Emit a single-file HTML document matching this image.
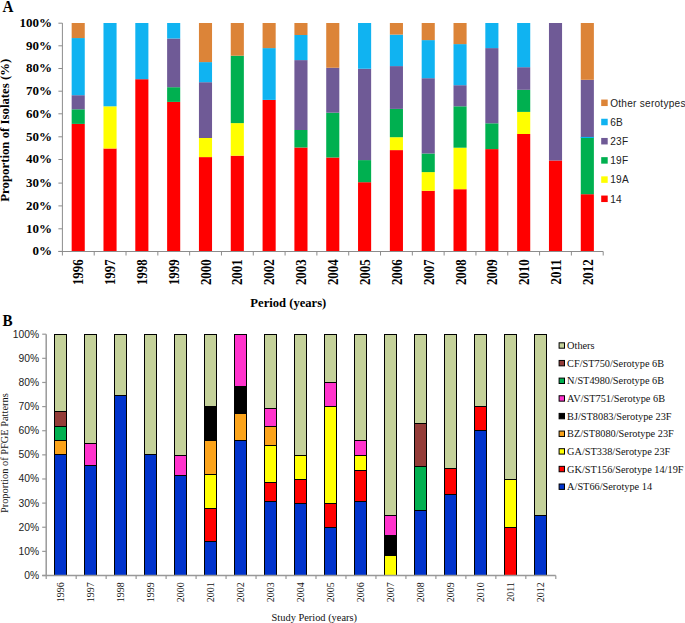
<!DOCTYPE html>
<html><head><meta charset="utf-8"><style>
html,body{margin:0;padding:0;background:#fff;width:685px;height:623px;overflow:hidden}
svg{display:block}
</style></head><body>
<svg width="685" height="623" viewBox="0 0 685 623">
<rect width="685" height="623" fill="#fff"/>
<rect x="71.66" y="123.9" width="13.1" height="127.1" fill="#ff0000"/>
<rect x="71.66" y="109.3" width="13.1" height="14.6" fill="#00b050"/>
<rect x="71.66" y="95.2" width="13.1" height="14.1" fill="#6f5a96"/>
<rect x="71.66" y="38.06" width="13.1" height="57.14" fill="#10b3f1"/>
<rect x="71.66" y="23" width="13.1" height="15.06" fill="#dc8438"/>
<rect x="103.48" y="148.5" width="13.1" height="102.5" fill="#ff0000"/>
<rect x="103.48" y="106.3" width="13.1" height="42.2" fill="#ffff00"/>
<rect x="103.48" y="23" width="13.1" height="83.3" fill="#10b3f1"/>
<rect x="135.3" y="79.2" width="13.1" height="171.8" fill="#ff0000"/>
<rect x="135.3" y="23" width="13.1" height="56.2" fill="#10b3f1"/>
<rect x="167.12" y="101.9" width="13.1" height="149.1" fill="#ff0000"/>
<rect x="167.12" y="87.2" width="13.1" height="14.7" fill="#00b050"/>
<rect x="167.12" y="38.5" width="13.1" height="48.7" fill="#6f5a96"/>
<rect x="167.12" y="23" width="13.1" height="15.5" fill="#10b3f1"/>
<rect x="198.94" y="157.1" width="13.1" height="93.9" fill="#ff0000"/>
<rect x="198.94" y="138" width="13.1" height="19.1" fill="#ffff00"/>
<rect x="198.94" y="82.2" width="13.1" height="55.8" fill="#6f5a96"/>
<rect x="198.94" y="62.1" width="13.1" height="20.1" fill="#10b3f1"/>
<rect x="198.94" y="23" width="13.1" height="39.1" fill="#dc8438"/>
<rect x="230.76" y="155.7" width="13.1" height="95.3" fill="#ff0000"/>
<rect x="230.76" y="123.1" width="13.1" height="32.6" fill="#ffff00"/>
<rect x="230.76" y="55.7" width="13.1" height="67.4" fill="#00b050"/>
<rect x="230.76" y="23" width="13.1" height="32.7" fill="#dc8438"/>
<rect x="262.58" y="99.9" width="13.1" height="151.1" fill="#ff0000"/>
<rect x="262.58" y="48.1" width="13.1" height="51.8" fill="#10b3f1"/>
<rect x="262.58" y="23" width="13.1" height="25.1" fill="#dc8438"/>
<rect x="294.4" y="147.5" width="13.1" height="103.5" fill="#ff0000"/>
<rect x="294.4" y="130" width="13.1" height="17.5" fill="#00b050"/>
<rect x="294.4" y="60.1" width="13.1" height="69.9" fill="#6f5a96"/>
<rect x="294.4" y="35" width="13.1" height="25.1" fill="#10b3f1"/>
<rect x="294.4" y="23" width="13.1" height="12" fill="#dc8438"/>
<rect x="326.22" y="157.5" width="13.1" height="93.5" fill="#ff0000"/>
<rect x="326.22" y="112.7" width="13.1" height="44.8" fill="#00b050"/>
<rect x="326.22" y="67.75" width="13.1" height="44.95" fill="#6f5a96"/>
<rect x="326.22" y="23" width="13.1" height="44.75" fill="#dc8438"/>
<rect x="358.04" y="182.2" width="13.1" height="68.8" fill="#ff0000"/>
<rect x="358.04" y="160.1" width="13.1" height="22.1" fill="#00b050"/>
<rect x="358.04" y="68.75" width="13.1" height="91.35" fill="#6f5a96"/>
<rect x="358.04" y="23" width="13.1" height="45.75" fill="#10b3f1"/>
<rect x="389.86" y="150.1" width="13.1" height="100.9" fill="#ff0000"/>
<rect x="389.86" y="137.2" width="13.1" height="12.9" fill="#ffff00"/>
<rect x="389.86" y="108.9" width="13.1" height="28.3" fill="#00b050"/>
<rect x="389.86" y="66.1" width="13.1" height="42.8" fill="#6f5a96"/>
<rect x="389.86" y="34.6" width="13.1" height="31.5" fill="#10b3f1"/>
<rect x="389.86" y="23" width="13.1" height="11.6" fill="#dc8438"/>
<rect x="421.68" y="190.8" width="13.1" height="60.2" fill="#ff0000"/>
<rect x="421.68" y="172.1" width="13.1" height="18.7" fill="#ffff00"/>
<rect x="421.68" y="153.5" width="13.1" height="18.6" fill="#00b050"/>
<rect x="421.68" y="78.2" width="13.1" height="75.3" fill="#6f5a96"/>
<rect x="421.68" y="40.1" width="13.1" height="38.1" fill="#10b3f1"/>
<rect x="421.68" y="23" width="13.1" height="17.1" fill="#dc8438"/>
<rect x="453.5" y="189.2" width="13.1" height="61.8" fill="#ff0000"/>
<rect x="453.5" y="147.7" width="13.1" height="41.5" fill="#ffff00"/>
<rect x="453.5" y="106.3" width="13.1" height="41.4" fill="#00b050"/>
<rect x="453.5" y="85.2" width="13.1" height="21.1" fill="#6f5a96"/>
<rect x="453.5" y="44.1" width="13.1" height="41.1" fill="#10b3f1"/>
<rect x="453.5" y="23" width="13.1" height="21.1" fill="#dc8438"/>
<rect x="485.32" y="149.1" width="13.1" height="101.9" fill="#ff0000"/>
<rect x="485.32" y="123.3" width="13.1" height="25.8" fill="#00b050"/>
<rect x="485.32" y="48.1" width="13.1" height="75.2" fill="#6f5a96"/>
<rect x="485.32" y="23" width="13.1" height="25.1" fill="#10b3f1"/>
<rect x="517.14" y="134" width="13.1" height="117" fill="#ff0000"/>
<rect x="517.14" y="111.9" width="13.1" height="22.1" fill="#ffff00"/>
<rect x="517.14" y="89.8" width="13.1" height="22.1" fill="#00b050"/>
<rect x="517.14" y="67.2" width="13.1" height="22.6" fill="#6f5a96"/>
<rect x="517.14" y="23" width="13.1" height="44.2" fill="#10b3f1"/>
<rect x="548.96" y="160.5" width="13.1" height="90.5" fill="#ff0000"/>
<rect x="548.96" y="23" width="13.1" height="137.5" fill="#6f5a96"/>
<rect x="580.78" y="194.2" width="13.1" height="56.8" fill="#ff0000"/>
<rect x="580.78" y="137.4" width="13.1" height="56.8" fill="#00b050"/>
<rect x="580.78" y="79.8" width="13.1" height="57.6" fill="#6f5a96"/>
<rect x="580.78" y="23" width="13.1" height="56.8" fill="#dc8438"/>
<rect x="580.78" y="136.9" width="13.1" height="1.1" fill="#08b6f4"/>
<line x1="62.4" y1="23.1" x2="62.4" y2="251.5" stroke="#8c8c8c" stroke-width="1"/>
<line x1="58.4" y1="251.5" x2="603.2" y2="251.5" stroke="#8c8c8c" stroke-width="1"/>
<line x1="58.4" y1="251.4" x2="62.4" y2="251.4" stroke="#8c8c8c" stroke-width="1"/>
<text transform="translate(52.0,255.2)" text-anchor="end" font-family='"Liberation Serif", serif' font-weight="bold" font-size="13" fill="#000">0%</text>
<line x1="58.4" y1="228.8" x2="62.4" y2="228.8" stroke="#8c8c8c" stroke-width="1"/>
<text transform="translate(52.0,232.6)" text-anchor="end" font-family='"Liberation Serif", serif' font-weight="bold" font-size="13" fill="#000">10%</text>
<line x1="58.4" y1="205.9" x2="62.4" y2="205.9" stroke="#8c8c8c" stroke-width="1"/>
<text transform="translate(52.0,209.7)" text-anchor="end" font-family='"Liberation Serif", serif' font-weight="bold" font-size="13" fill="#000">20%</text>
<line x1="58.4" y1="183.1" x2="62.4" y2="183.1" stroke="#8c8c8c" stroke-width="1"/>
<text transform="translate(52.0,186.9)" text-anchor="end" font-family='"Liberation Serif", serif' font-weight="bold" font-size="13" fill="#000">30%</text>
<line x1="58.4" y1="159.5" x2="62.4" y2="159.5" stroke="#8c8c8c" stroke-width="1"/>
<text transform="translate(52.0,163.3)" text-anchor="end" font-family='"Liberation Serif", serif' font-weight="bold" font-size="13" fill="#000">40%</text>
<line x1="58.4" y1="136.8" x2="62.4" y2="136.8" stroke="#8c8c8c" stroke-width="1"/>
<text transform="translate(52.0,140.6)" text-anchor="end" font-family='"Liberation Serif", serif' font-weight="bold" font-size="13" fill="#000">50%</text>
<line x1="58.4" y1="113.8" x2="62.4" y2="113.8" stroke="#8c8c8c" stroke-width="1"/>
<text transform="translate(52.0,117.6)" text-anchor="end" font-family='"Liberation Serif", serif' font-weight="bold" font-size="13" fill="#000">60%</text>
<line x1="58.4" y1="91.2" x2="62.4" y2="91.2" stroke="#8c8c8c" stroke-width="1"/>
<text transform="translate(52.0,95)" text-anchor="end" font-family='"Liberation Serif", serif' font-weight="bold" font-size="13" fill="#000">70%</text>
<line x1="58.4" y1="68.5" x2="62.4" y2="68.5" stroke="#8c8c8c" stroke-width="1"/>
<text transform="translate(52.0,72.3)" text-anchor="end" font-family='"Liberation Serif", serif' font-weight="bold" font-size="13" fill="#000">80%</text>
<line x1="58.4" y1="45.8" x2="62.4" y2="45.8" stroke="#8c8c8c" stroke-width="1"/>
<text transform="translate(52.0,49.6)" text-anchor="end" font-family='"Liberation Serif", serif' font-weight="bold" font-size="13" fill="#000">90%</text>
<line x1="58.4" y1="23.2" x2="62.4" y2="23.2" stroke="#8c8c8c" stroke-width="1"/>
<text transform="translate(52.0,27)" text-anchor="end" font-family='"Liberation Serif", serif' font-weight="bold" font-size="13" fill="#000">100%</text>
<line x1="62.4" y1="251.5" x2="62.4" y2="255.5" stroke="#8c8c8c" stroke-width="1"/>
<line x1="94.21" y1="251.5" x2="94.21" y2="255.5" stroke="#8c8c8c" stroke-width="1"/>
<line x1="126.02" y1="251.5" x2="126.02" y2="255.5" stroke="#8c8c8c" stroke-width="1"/>
<line x1="157.84" y1="251.5" x2="157.84" y2="255.5" stroke="#8c8c8c" stroke-width="1"/>
<line x1="189.65" y1="251.5" x2="189.65" y2="255.5" stroke="#8c8c8c" stroke-width="1"/>
<line x1="221.46" y1="251.5" x2="221.46" y2="255.5" stroke="#8c8c8c" stroke-width="1"/>
<line x1="253.27" y1="251.5" x2="253.27" y2="255.5" stroke="#8c8c8c" stroke-width="1"/>
<line x1="285.08" y1="251.5" x2="285.08" y2="255.5" stroke="#8c8c8c" stroke-width="1"/>
<line x1="316.89" y1="251.5" x2="316.89" y2="255.5" stroke="#8c8c8c" stroke-width="1"/>
<line x1="348.71" y1="251.5" x2="348.71" y2="255.5" stroke="#8c8c8c" stroke-width="1"/>
<line x1="380.52" y1="251.5" x2="380.52" y2="255.5" stroke="#8c8c8c" stroke-width="1"/>
<line x1="412.33" y1="251.5" x2="412.33" y2="255.5" stroke="#8c8c8c" stroke-width="1"/>
<line x1="444.14" y1="251.5" x2="444.14" y2="255.5" stroke="#8c8c8c" stroke-width="1"/>
<line x1="475.95" y1="251.5" x2="475.95" y2="255.5" stroke="#8c8c8c" stroke-width="1"/>
<line x1="507.76" y1="251.5" x2="507.76" y2="255.5" stroke="#8c8c8c" stroke-width="1"/>
<line x1="539.58" y1="251.5" x2="539.58" y2="255.5" stroke="#8c8c8c" stroke-width="1"/>
<line x1="571.39" y1="251.5" x2="571.39" y2="255.5" stroke="#8c8c8c" stroke-width="1"/>
<line x1="603.2" y1="251.5" x2="603.2" y2="255.5" stroke="#8c8c8c" stroke-width="1"/>
<text transform="translate(83,259.3) rotate(-90) scale(1,1.12)" x="0" y="0" text-anchor="end" font-family='"Liberation Serif", serif' font-weight="bold" font-size="12.9" fill="#000">1996</text>
<text transform="translate(114.88,259.3) rotate(-90) scale(1,1.12)" x="0" y="0" text-anchor="end" font-family='"Liberation Serif", serif' font-weight="bold" font-size="12.9" fill="#000">1997</text>
<text transform="translate(146.76,259.3) rotate(-90) scale(1,1.12)" x="0" y="0" text-anchor="end" font-family='"Liberation Serif", serif' font-weight="bold" font-size="12.9" fill="#000">1998</text>
<text transform="translate(178.64,259.3) rotate(-90) scale(1,1.12)" x="0" y="0" text-anchor="end" font-family='"Liberation Serif", serif' font-weight="bold" font-size="12.9" fill="#000">1999</text>
<text transform="translate(210.52,259.3) rotate(-90) scale(1,1.12)" x="0" y="0" text-anchor="end" font-family='"Liberation Serif", serif' font-weight="bold" font-size="12.9" fill="#000">2000</text>
<text transform="translate(242.4,259.3) rotate(-90) scale(1,1.12)" x="0" y="0" text-anchor="end" font-family='"Liberation Serif", serif' font-weight="bold" font-size="12.9" fill="#000">2001</text>
<text transform="translate(274.28,259.3) rotate(-90) scale(1,1.12)" x="0" y="0" text-anchor="end" font-family='"Liberation Serif", serif' font-weight="bold" font-size="12.9" fill="#000">2002</text>
<text transform="translate(306.16,259.3) rotate(-90) scale(1,1.12)" x="0" y="0" text-anchor="end" font-family='"Liberation Serif", serif' font-weight="bold" font-size="12.9" fill="#000">2003</text>
<text transform="translate(338.04,259.3) rotate(-90) scale(1,1.12)" x="0" y="0" text-anchor="end" font-family='"Liberation Serif", serif' font-weight="bold" font-size="12.9" fill="#000">2004</text>
<text transform="translate(369.92,259.3) rotate(-90) scale(1,1.12)" x="0" y="0" text-anchor="end" font-family='"Liberation Serif", serif' font-weight="bold" font-size="12.9" fill="#000">2005</text>
<text transform="translate(401.8,259.3) rotate(-90) scale(1,1.12)" x="0" y="0" text-anchor="end" font-family='"Liberation Serif", serif' font-weight="bold" font-size="12.9" fill="#000">2006</text>
<text transform="translate(433.68,259.3) rotate(-90) scale(1,1.12)" x="0" y="0" text-anchor="end" font-family='"Liberation Serif", serif' font-weight="bold" font-size="12.9" fill="#000">2007</text>
<text transform="translate(465.56,259.3) rotate(-90) scale(1,1.12)" x="0" y="0" text-anchor="end" font-family='"Liberation Serif", serif' font-weight="bold" font-size="12.9" fill="#000">2008</text>
<text transform="translate(497.44,259.3) rotate(-90) scale(1,1.12)" x="0" y="0" text-anchor="end" font-family='"Liberation Serif", serif' font-weight="bold" font-size="12.9" fill="#000">2009</text>
<text transform="translate(529.32,259.3) rotate(-90) scale(1,1.12)" x="0" y="0" text-anchor="end" font-family='"Liberation Serif", serif' font-weight="bold" font-size="12.9" fill="#000">2010</text>
<text transform="translate(561.2,259.3) rotate(-90) scale(1,1.12)" x="0" y="0" text-anchor="end" font-family='"Liberation Serif", serif' font-weight="bold" font-size="12.9" fill="#000">2011</text>
<text transform="translate(593.08,259.3) rotate(-90) scale(1,1.12)" x="0" y="0" text-anchor="end" font-family='"Liberation Serif", serif' font-weight="bold" font-size="12.9" fill="#000">2012</text>
<text transform="translate(2.6,11.9) scale(0.87,1)" font-family='"Liberation Serif", serif' font-weight="bold" font-size="17.4" fill="#000">A</text>
<text transform="translate(9.2,130.2) rotate(-90)" text-anchor="middle" font-family='"Liberation Serif", serif' font-weight="bold" font-size="12.8" fill="#000">Proportion of Isolates (%)</text>
<text transform="translate(288.3,307.4)" text-anchor="middle" font-family='"Liberation Serif", serif' font-weight="bold" font-size="12.6" fill="#000">Period (years)</text>
<rect x="601.2" y="99.55" width="6.5" height="6.5" fill="#dc8438"/>
<text x="610.2" y="106.6" font-family='"Liberation Sans", sans-serif' font-size="10.1" letter-spacing="0.25" fill="#222">Other serotypes</text>
<rect x="601.2" y="118.75" width="6.5" height="6.5" fill="#10b3f1"/>
<text x="610.2" y="125.8" font-family='"Liberation Sans", sans-serif' font-size="10.1" letter-spacing="0.25" fill="#222">6B</text>
<rect x="601.2" y="137.95" width="6.5" height="6.5" fill="#6f5a96"/>
<text x="610.2" y="145" font-family='"Liberation Sans", sans-serif' font-size="10.1" letter-spacing="0.25" fill="#222">23F</text>
<rect x="601.2" y="157.15" width="6.5" height="6.5" fill="#00b050"/>
<text x="610.2" y="164.2" font-family='"Liberation Sans", sans-serif' font-size="10.1" letter-spacing="0.25" fill="#222">19F</text>
<rect x="601.2" y="176.35" width="6.5" height="6.5" fill="#ffff00"/>
<text x="610.2" y="183.4" font-family='"Liberation Sans", sans-serif' font-size="10.1" letter-spacing="0.25" fill="#222">19A</text>
<rect x="601.2" y="195.55" width="6.5" height="6.5" fill="#ff0000"/>
<text x="610.2" y="202.6" font-family='"Liberation Sans", sans-serif' font-size="10.1" letter-spacing="0.25" fill="#222">14</text>
<rect x="54.5" y="454.5" width="12" height="121" fill="#0033cc" stroke="#000" stroke-width="1"/>
<rect x="54.5" y="440.5" width="12" height="14" fill="#fba31a" stroke="#000" stroke-width="1"/>
<rect x="54.5" y="426.5" width="12" height="14" fill="#00b050" stroke="#000" stroke-width="1"/>
<rect x="54.5" y="411.5" width="12" height="15" fill="#943c38" stroke="#000" stroke-width="1"/>
<rect x="54.5" y="334.5" width="12" height="77" fill="#c4d19a" stroke="#000" stroke-width="1"/>
<rect x="84.5" y="465.5" width="12" height="110" fill="#0033cc" stroke="#000" stroke-width="1"/>
<rect x="84.5" y="443.5" width="12" height="22" fill="#ff33cc" stroke="#000" stroke-width="1"/>
<rect x="84.5" y="334.5" width="12" height="109" fill="#c4d19a" stroke="#000" stroke-width="1"/>
<rect x="114.5" y="395.5" width="12" height="180" fill="#0033cc" stroke="#000" stroke-width="1"/>
<rect x="114.5" y="334.5" width="12" height="61" fill="#c4d19a" stroke="#000" stroke-width="1"/>
<rect x="144.5" y="454.5" width="12" height="121" fill="#0033cc" stroke="#000" stroke-width="1"/>
<rect x="144.5" y="334.5" width="12" height="120" fill="#c4d19a" stroke="#000" stroke-width="1"/>
<rect x="174.5" y="475.5" width="12" height="100" fill="#0033cc" stroke="#000" stroke-width="1"/>
<rect x="174.5" y="455.5" width="12" height="20" fill="#ff33cc" stroke="#000" stroke-width="1"/>
<rect x="174.5" y="334.5" width="12" height="121" fill="#c4d19a" stroke="#000" stroke-width="1"/>
<rect x="204.5" y="541.5" width="12" height="34" fill="#0033cc" stroke="#000" stroke-width="1"/>
<rect x="204.5" y="508.5" width="12" height="33" fill="#ff0000" stroke="#000" stroke-width="1"/>
<rect x="204.5" y="474.5" width="12" height="34" fill="#ffff00" stroke="#000" stroke-width="1"/>
<rect x="204.5" y="440.5" width="12" height="34" fill="#fba31a" stroke="#000" stroke-width="1"/>
<rect x="204.5" y="406.5" width="12" height="34" fill="#000000" stroke="#000" stroke-width="1"/>
<rect x="204.5" y="334.5" width="12" height="72" fill="#c4d19a" stroke="#000" stroke-width="1"/>
<rect x="234.5" y="440.5" width="12" height="135" fill="#0033cc" stroke="#000" stroke-width="1"/>
<rect x="234.5" y="413.5" width="12" height="27" fill="#fba31a" stroke="#000" stroke-width="1"/>
<rect x="234.5" y="386.5" width="12" height="27" fill="#000000" stroke="#000" stroke-width="1"/>
<rect x="234.5" y="334.5" width="12" height="52" fill="#ff33cc" stroke="#000" stroke-width="1"/>
<rect x="264.5" y="501.5" width="12" height="74" fill="#0033cc" stroke="#000" stroke-width="1"/>
<rect x="264.5" y="482.5" width="12" height="19" fill="#ff0000" stroke="#000" stroke-width="1"/>
<rect x="264.5" y="445.5" width="12" height="37" fill="#ffff00" stroke="#000" stroke-width="1"/>
<rect x="264.5" y="426.5" width="12" height="19" fill="#fba31a" stroke="#000" stroke-width="1"/>
<rect x="264.5" y="408.5" width="12" height="18" fill="#ff33cc" stroke="#000" stroke-width="1"/>
<rect x="264.5" y="334.5" width="12" height="74" fill="#c4d19a" stroke="#000" stroke-width="1"/>
<rect x="294.5" y="503.5" width="12" height="72" fill="#0033cc" stroke="#000" stroke-width="1"/>
<rect x="294.5" y="479.5" width="12" height="24" fill="#ff0000" stroke="#000" stroke-width="1"/>
<rect x="294.5" y="455.5" width="12" height="24" fill="#ffff00" stroke="#000" stroke-width="1"/>
<rect x="294.5" y="334.5" width="12" height="121" fill="#c4d19a" stroke="#000" stroke-width="1"/>
<rect x="324.5" y="527.5" width="12" height="48" fill="#0033cc" stroke="#000" stroke-width="1"/>
<rect x="324.5" y="503.5" width="12" height="24" fill="#ff0000" stroke="#000" stroke-width="1"/>
<rect x="324.5" y="406.5" width="12" height="97" fill="#ffff00" stroke="#000" stroke-width="1"/>
<rect x="324.5" y="382.5" width="12" height="24" fill="#ff33cc" stroke="#000" stroke-width="1"/>
<rect x="324.5" y="334.5" width="12" height="48" fill="#c4d19a" stroke="#000" stroke-width="1"/>
<rect x="354.5" y="501.5" width="12" height="74" fill="#0033cc" stroke="#000" stroke-width="1"/>
<rect x="354.5" y="470.5" width="12" height="31" fill="#ff0000" stroke="#000" stroke-width="1"/>
<rect x="354.5" y="455.5" width="12" height="15" fill="#ffff00" stroke="#000" stroke-width="1"/>
<rect x="354.5" y="440.5" width="12" height="15" fill="#ff33cc" stroke="#000" stroke-width="1"/>
<rect x="354.5" y="334.5" width="12" height="106" fill="#c4d19a" stroke="#000" stroke-width="1"/>
<rect x="384.5" y="555.5" width="12" height="20" fill="#ffff00" stroke="#000" stroke-width="1"/>
<rect x="384.5" y="535.5" width="12" height="20" fill="#000000" stroke="#000" stroke-width="1"/>
<rect x="384.5" y="515.5" width="12" height="20" fill="#ff33cc" stroke="#000" stroke-width="1"/>
<rect x="384.5" y="334.5" width="12" height="181" fill="#c4d19a" stroke="#000" stroke-width="1"/>
<rect x="414.5" y="510.5" width="12" height="65" fill="#0033cc" stroke="#000" stroke-width="1"/>
<rect x="414.5" y="466.5" width="12" height="44" fill="#00b050" stroke="#000" stroke-width="1"/>
<rect x="414.5" y="423.5" width="12" height="43" fill="#943c38" stroke="#000" stroke-width="1"/>
<rect x="414.5" y="334.5" width="12" height="89" fill="#c4d19a" stroke="#000" stroke-width="1"/>
<rect x="444.5" y="494.5" width="12" height="81" fill="#0033cc" stroke="#000" stroke-width="1"/>
<rect x="444.5" y="468.5" width="12" height="26" fill="#ff0000" stroke="#000" stroke-width="1"/>
<rect x="444.5" y="334.5" width="12" height="134" fill="#c4d19a" stroke="#000" stroke-width="1"/>
<rect x="474.5" y="430.5" width="12" height="145" fill="#0033cc" stroke="#000" stroke-width="1"/>
<rect x="474.5" y="406.5" width="12" height="24" fill="#ff0000" stroke="#000" stroke-width="1"/>
<rect x="474.5" y="334.5" width="12" height="72" fill="#c4d19a" stroke="#000" stroke-width="1"/>
<rect x="504.5" y="527.5" width="12" height="48" fill="#ff0000" stroke="#000" stroke-width="1"/>
<rect x="504.5" y="479.5" width="12" height="48" fill="#ffff00" stroke="#000" stroke-width="1"/>
<rect x="504.5" y="334.5" width="12" height="145" fill="#c4d19a" stroke="#000" stroke-width="1"/>
<rect x="534.5" y="515.5" width="12" height="60" fill="#0033cc" stroke="#000" stroke-width="1"/>
<rect x="534.5" y="334.5" width="12" height="181" fill="#c4d19a" stroke="#000" stroke-width="1"/>
<line x1="46.2" y1="334.2" x2="46.2" y2="575.5" stroke="#999" stroke-width="1.5"/>
<line x1="42.2" y1="575.5" x2="555.8" y2="575.5" stroke="#999" stroke-width="1.5"/>
<line x1="42.2" y1="575.5" x2="46.2" y2="575.5" stroke="#999" stroke-width="1.2"/>
<text x="39.2" y="578.9" text-anchor="end" font-family='"Liberation Sans", sans-serif' font-size="10.3" fill="#222">0%</text>
<line x1="42.2" y1="551.37" x2="46.2" y2="551.37" stroke="#999" stroke-width="1.2"/>
<text x="39.2" y="554.77" text-anchor="end" font-family='"Liberation Sans", sans-serif' font-size="10.3" fill="#222">10%</text>
<line x1="42.2" y1="527.24" x2="46.2" y2="527.24" stroke="#999" stroke-width="1.2"/>
<text x="39.2" y="530.64" text-anchor="end" font-family='"Liberation Sans", sans-serif' font-size="10.3" fill="#222">20%</text>
<line x1="42.2" y1="503.11" x2="46.2" y2="503.11" stroke="#999" stroke-width="1.2"/>
<text x="39.2" y="506.51" text-anchor="end" font-family='"Liberation Sans", sans-serif' font-size="10.3" fill="#222">30%</text>
<line x1="42.2" y1="478.98" x2="46.2" y2="478.98" stroke="#999" stroke-width="1.2"/>
<text x="39.2" y="482.38" text-anchor="end" font-family='"Liberation Sans", sans-serif' font-size="10.3" fill="#222">40%</text>
<line x1="42.2" y1="454.85" x2="46.2" y2="454.85" stroke="#999" stroke-width="1.2"/>
<text x="39.2" y="458.25" text-anchor="end" font-family='"Liberation Sans", sans-serif' font-size="10.3" fill="#222">50%</text>
<line x1="42.2" y1="430.72" x2="46.2" y2="430.72" stroke="#999" stroke-width="1.2"/>
<text x="39.2" y="434.12" text-anchor="end" font-family='"Liberation Sans", sans-serif' font-size="10.3" fill="#222">60%</text>
<line x1="42.2" y1="406.59" x2="46.2" y2="406.59" stroke="#999" stroke-width="1.2"/>
<text x="39.2" y="409.99" text-anchor="end" font-family='"Liberation Sans", sans-serif' font-size="10.3" fill="#222">70%</text>
<line x1="42.2" y1="382.46" x2="46.2" y2="382.46" stroke="#999" stroke-width="1.2"/>
<text x="39.2" y="385.86" text-anchor="end" font-family='"Liberation Sans", sans-serif' font-size="10.3" fill="#222">80%</text>
<line x1="42.2" y1="358.33" x2="46.2" y2="358.33" stroke="#999" stroke-width="1.2"/>
<text x="39.2" y="361.73" text-anchor="end" font-family='"Liberation Sans", sans-serif' font-size="10.3" fill="#222">90%</text>
<line x1="42.2" y1="334.2" x2="46.2" y2="334.2" stroke="#999" stroke-width="1.2"/>
<text x="39.2" y="337.6" text-anchor="end" font-family='"Liberation Sans", sans-serif' font-size="10.3" fill="#222">100%</text>
<line x1="46.2" y1="575.5" x2="46.2" y2="579" stroke="#999" stroke-width="1.2"/>
<line x1="76.18" y1="575.5" x2="76.18" y2="579" stroke="#999" stroke-width="1.2"/>
<line x1="106.15" y1="575.5" x2="106.15" y2="579" stroke="#999" stroke-width="1.2"/>
<line x1="136.13" y1="575.5" x2="136.13" y2="579" stroke="#999" stroke-width="1.2"/>
<line x1="166.11" y1="575.5" x2="166.11" y2="579" stroke="#999" stroke-width="1.2"/>
<line x1="196.08" y1="575.5" x2="196.08" y2="579" stroke="#999" stroke-width="1.2"/>
<line x1="226.06" y1="575.5" x2="226.06" y2="579" stroke="#999" stroke-width="1.2"/>
<line x1="256.04" y1="575.5" x2="256.04" y2="579" stroke="#999" stroke-width="1.2"/>
<line x1="286.01" y1="575.5" x2="286.01" y2="579" stroke="#999" stroke-width="1.2"/>
<line x1="315.99" y1="575.5" x2="315.99" y2="579" stroke="#999" stroke-width="1.2"/>
<line x1="345.96" y1="575.5" x2="345.96" y2="579" stroke="#999" stroke-width="1.2"/>
<line x1="375.94" y1="575.5" x2="375.94" y2="579" stroke="#999" stroke-width="1.2"/>
<line x1="405.92" y1="575.5" x2="405.92" y2="579" stroke="#999" stroke-width="1.2"/>
<line x1="435.89" y1="575.5" x2="435.89" y2="579" stroke="#999" stroke-width="1.2"/>
<line x1="465.87" y1="575.5" x2="465.87" y2="579" stroke="#999" stroke-width="1.2"/>
<line x1="495.85" y1="575.5" x2="495.85" y2="579" stroke="#999" stroke-width="1.2"/>
<line x1="525.82" y1="575.5" x2="525.82" y2="579" stroke="#999" stroke-width="1.2"/>
<line x1="555.8" y1="575.5" x2="555.8" y2="579" stroke="#999" stroke-width="1.2"/>
<text transform="translate(64.39,582.2) rotate(-90)" text-anchor="end" font-family='"Liberation Serif", serif' font-size="10" fill="#111">1996</text>
<text transform="translate(94.36,582.2) rotate(-90)" text-anchor="end" font-family='"Liberation Serif", serif' font-size="10" fill="#111">1997</text>
<text transform="translate(124.34,582.2) rotate(-90)" text-anchor="end" font-family='"Liberation Serif", serif' font-size="10" fill="#111">1998</text>
<text transform="translate(154.32,582.2) rotate(-90)" text-anchor="end" font-family='"Liberation Serif", serif' font-size="10" fill="#111">1999</text>
<text transform="translate(184.29,582.2) rotate(-90)" text-anchor="end" font-family='"Liberation Serif", serif' font-size="10" fill="#111">2000</text>
<text transform="translate(214.27,582.2) rotate(-90)" text-anchor="end" font-family='"Liberation Serif", serif' font-size="10" fill="#111">2001</text>
<text transform="translate(244.25,582.2) rotate(-90)" text-anchor="end" font-family='"Liberation Serif", serif' font-size="10" fill="#111">2002</text>
<text transform="translate(274.22,582.2) rotate(-90)" text-anchor="end" font-family='"Liberation Serif", serif' font-size="10" fill="#111">2003</text>
<text transform="translate(304.2,582.2) rotate(-90)" text-anchor="end" font-family='"Liberation Serif", serif' font-size="10" fill="#111">2004</text>
<text transform="translate(334.18,582.2) rotate(-90)" text-anchor="end" font-family='"Liberation Serif", serif' font-size="10" fill="#111">2005</text>
<text transform="translate(364.15,582.2) rotate(-90)" text-anchor="end" font-family='"Liberation Serif", serif' font-size="10" fill="#111">2006</text>
<text transform="translate(394.13,582.2) rotate(-90)" text-anchor="end" font-family='"Liberation Serif", serif' font-size="10" fill="#111">2007</text>
<text transform="translate(424.11,582.2) rotate(-90)" text-anchor="end" font-family='"Liberation Serif", serif' font-size="10" fill="#111">2008</text>
<text transform="translate(454.08,582.2) rotate(-90)" text-anchor="end" font-family='"Liberation Serif", serif' font-size="10" fill="#111">2009</text>
<text transform="translate(484.06,582.2) rotate(-90)" text-anchor="end" font-family='"Liberation Serif", serif' font-size="10" fill="#111">2010</text>
<text transform="translate(514.04,582.2) rotate(-90)" text-anchor="end" font-family='"Liberation Serif", serif' font-size="10" fill="#111">2011</text>
<text transform="translate(544.01,582.2) rotate(-90)" text-anchor="end" font-family='"Liberation Serif", serif' font-size="10" fill="#111">2012</text>
<text transform="translate(2.5,325.7) scale(0.87,1)" font-family='"Liberation Serif", serif' font-weight="bold" font-size="17.4" fill="#000">B</text>
<text transform="translate(8.4,453.2) rotate(-90)" text-anchor="middle" font-family='"Liberation Serif", serif' font-size="10.4" fill="#111">Proportion of PFGE Patterns</text>
<text x="314.3" y="620.5" text-anchor="middle" font-family='"Liberation Serif", serif' font-size="10.4" fill="#111">Study Period (years)</text>
<rect x="559.1" y="342.8" width="5.4" height="5.4" fill="#c4d19a" stroke="#000" stroke-width="1"/>
<text x="567.1" y="349" font-family='"Liberation Serif", serif' font-size="10.3" fill="#111">Others</text>
<rect x="559.1" y="360.45" width="5.4" height="5.4" fill="#943c38" stroke="#000" stroke-width="1"/>
<text x="567.1" y="366.65" font-family='"Liberation Serif", serif' font-size="10.3" fill="#111">CF/ST750/Serotype 6B</text>
<rect x="559.1" y="378.1" width="5.4" height="5.4" fill="#00b050" stroke="#000" stroke-width="1"/>
<text x="567.1" y="384.3" font-family='"Liberation Serif", serif' font-size="10.3" fill="#111">N/ST4980/Serotype 6B</text>
<rect x="559.1" y="395.75" width="5.4" height="5.4" fill="#ff33cc" stroke="#000" stroke-width="1"/>
<text x="567.1" y="401.95" font-family='"Liberation Serif", serif' font-size="10.3" fill="#111">AV/ST751/Serotype 6B</text>
<rect x="559.1" y="413.4" width="5.4" height="5.4" fill="#000000" stroke="#000" stroke-width="1"/>
<text x="567.1" y="419.6" font-family='"Liberation Serif", serif' font-size="10.3" fill="#111">BJ/ST8083/Serotype 23F</text>
<rect x="559.1" y="431.05" width="5.4" height="5.4" fill="#fba31a" stroke="#000" stroke-width="1"/>
<text x="567.1" y="437.25" font-family='"Liberation Serif", serif' font-size="10.3" fill="#111">BZ/ST8080/Serotype 23F</text>
<rect x="559.1" y="448.7" width="5.4" height="5.4" fill="#ffff00" stroke="#000" stroke-width="1"/>
<text x="567.1" y="454.9" font-family='"Liberation Serif", serif' font-size="10.3" fill="#111">GA/ST338/Serotype 23F</text>
<rect x="559.1" y="466.35" width="5.4" height="5.4" fill="#ff0000" stroke="#000" stroke-width="1"/>
<text x="567.1" y="472.55" font-family='"Liberation Serif", serif' font-size="10.3" fill="#111">GK/ST156/Serotype 14/19F</text>
<rect x="559.1" y="484" width="5.4" height="5.4" fill="#0033cc" stroke="#000" stroke-width="1"/>
<text x="567.1" y="490.2" font-family='"Liberation Serif", serif' font-size="10.3" fill="#111">A/ST66/Serotype 14</text>
</svg>
</body></html>
